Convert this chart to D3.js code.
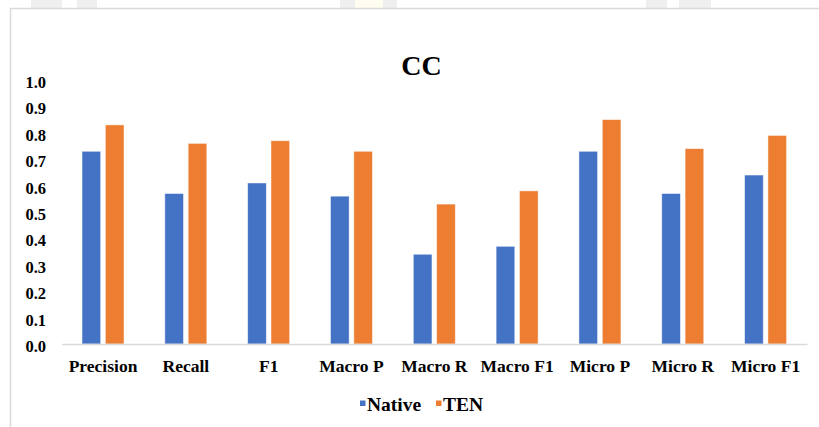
<!DOCTYPE html>
<html>
<head>
<meta charset="utf-8">
<script src="https://cdn.jsdelivr.net/npm/d3@7"></script>
<style>
  html, body { margin: 0; padding: 0; background: #fff; }
  svg { display: block; }
  svg text { font-family: "Liberation Serif", "Times New Roman", serif !important; font-weight: bold; fill: #000; }
</style>
</head>
<body>
<svg id="chart" width="819" height="427"></svg>
<script>
// Metric names along the x axis
const categories = ["Precision", "Recall", "F1", "Macro P", "Macro R", "Macro F1", "Micro P", "Micro R", "Micro F1"];
// Series names
const seriesNames = ["Native", "TEN"];
// Scores per metric
const nativeValues = [0.73, 0.57, 0.61, 0.56, 0.34, 0.37, 0.73, 0.57, 0.64];
const tenValues    = [0.83, 0.76, 0.77, 0.73, 0.53, 0.58, 0.85, 0.74, 0.79];
// Y axis tick values
const yTicks = [0.0, 0.1, 0.2, 0.3, 0.4, 0.5, 0.6, 0.7, 0.8, 0.9, 1.0];

const colors = { Native: "#4472C4", TEN: "#ED7D31" };

const svg = d3.select("#chart");

// Faint page strips above the chart frame
const strips = [
  [31, 31, "#efefef"], [77, 20, "#efefef"],
  [340, 15, "#efefef"], [355, 28, "#fefdf0"], [383, 14, "#efefef"],
  [646, 21, "#efefef"], [679, 32, "#efefef"]
];
svg.selectAll("rect.strip").data(strips).join("rect")
  .attr("class", "strip")
  .attr("x", d => d[0]).attr("y", 0)
  .attr("width", d => d[1]).attr("height", 8)
  .attr("fill", d => d[2]);

// Chart frame
svg.append("path")
  .attr("d", "M10.5,430 V8.5 H830")
  .attr("fill", "none")
  .attr("stroke", "#d9d9d9")
  .attr("stroke-width", 1.5);

// Scales
const x = d3.scaleBand().domain(categories).range([61.6, 807]).padding(0);
const xInner = d3.scaleBand().domain(seriesNames).range([-21, 21]).paddingInner(0.2);
const y = d3.scaleLinear().domain([0, 1]).range([344, 80]);

// Title
svg.append("text")
  .attr("x", 421.5).attr("y", 75)
  .attr("text-anchor", "middle")
  .style("font-size", "28px")
  .text("CC");

// Y axis labels
const yAxis = d3.axisLeft(y).tickValues(yTicks).tickFormat(d3.format(".1f")).tickSize(0).tickPadding(0);
const gy = svg.append("g").attr("transform", "translate(46,0)").call(yAxis)
  .attr("font-family", null).attr("font-size", null);
gy.select(".domain").remove();
gy.selectAll("text")
  .style("font-size", "16.5px")
  .attr("dy", "0.45em");

// Bars
const rows = categories.map((c, i) => ({ cat: c, Native: nativeValues[i], TEN: tenValues[i] }));
const groups = svg.append("g").selectAll("g").data(rows).join("g")
  .attr("transform", d => `translate(${x(d.cat) + x.bandwidth() / 2},0)`);
groups.selectAll("rect").data(d => seriesNames.map(s => ({ s, v: d[s] }))).join("rect")
  .attr("x", d => xInner(d.s))
  .attr("width", xInner.bandwidth())
  .attr("y", d => y(d.v))
  .attr("height", d => y(0) - y(d.v))
  .attr("fill", d => colors[d.s])
  .attr("stroke", "#fff")
  .attr("stroke-opacity", 0.6)
  .attr("stroke-width", 0.8);

// X axis line and category labels
const xAxis = d3.axisBottom(x).tickSize(0).tickPadding(0);
const gx = svg.append("g").attr("transform", `translate(0,${y(0)})`).call(xAxis)
  .attr("font-family", null).attr("font-size", null);
gx.select(".domain").attr("stroke", "#d9d9d9").attr("stroke-width", 1.5);
gx.selectAll("text")
  .style("font-size", "17.5px")
  .attr("dy", "0")
  .attr("y", 27.5);

// Legend
const legendItems = [
  { name: "Native", sx: 360, tx: 367 },
  { name: "TEN", sx: 436, tx: 443 }
];
const lg = svg.append("g");
lg.selectAll("rect").data(legendItems).join("rect")
  .attr("x", d => d.sx).attr("y", 400.5)
  .attr("width", 5.5).attr("height", 5.5)
  .attr("fill", d => colors[d.name]);
lg.selectAll("text").data(legendItems).join("text")
  .attr("x", d => d.tx).attr("y", 410.5)
  .style("font-size", "19.5px")
  .text(d => d.name);
</script>
</body>
</html>
